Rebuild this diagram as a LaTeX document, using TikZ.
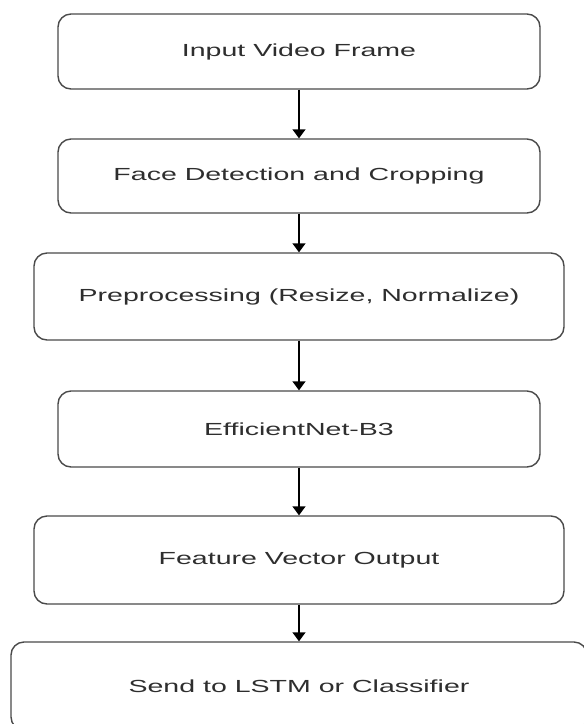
\documentclass[tikz,border=0pt]{standalone}
\usepackage{fontspec}
\usepackage{graphicx}
\setmainfont{Liberation Sans}
\usetikzlibrary{arrows.meta}
\definecolor{boxline}{HTML}{4A4A4A}
\definecolor{txt}{HTML}{2E2E2E}
\newcommand{\wtext}[1]{\scalebox{1.63}[1]{\fontsize{17.5pt}{20pt}\selectfont #1}}
\tikzset{
  stepbox/.style={draw=boxline, line width=1.4pt, rounded corners=13pt, fill=white,
    inner sep=0pt, text=txt, anchor=center},
  flow/.style={draw=black, line width=1.4pt, -{Triangle[width=13pt,length=9pt]}}
}
\begin{document}
\begin{tikzpicture}[x=1pt,y=-1pt]
\useasboundingbox (0,0) rectangle (584,724);
\clip (0,0) rectangle (584,724);
\node[stepbox, minimum width=482pt, minimum height=75pt] (n1) at (299,51.5) {\wtext{Input Video Frame}};
\node[stepbox, minimum width=482pt, minimum height=74pt] (n2) at (299,176) {\wtext{Face Detection and Cropping}};
\node[stepbox, minimum width=530pt, minimum height=87pt] (n3) at (299,296.5) {\wtext{Preprocessing (Resize, Normalize)}};
\node[stepbox, minimum width=482pt, minimum height=76pt] (n4) at (299,429) {\wtext{EfficientNet-B3}};
\node[stepbox, minimum width=530pt, minimum height=88pt] (n5) at (299,560) {\wtext{Feature Vector Output}};
\node[stepbox, minimum width=576pt, minimum height=88pt] (n6) at (299,686) {\wtext{Send to LSTM or Classifier}};
\draw[flow] (n1.south) -- (n2.north);
\draw[flow] (n2.south) -- (n3.north);
\draw[flow] (n3.south) -- (n4.north);
\draw[flow] (n4.south) -- (n5.north);
\draw[flow] (n5.south) -- (n6.north);
\end{tikzpicture}
\end{document}
